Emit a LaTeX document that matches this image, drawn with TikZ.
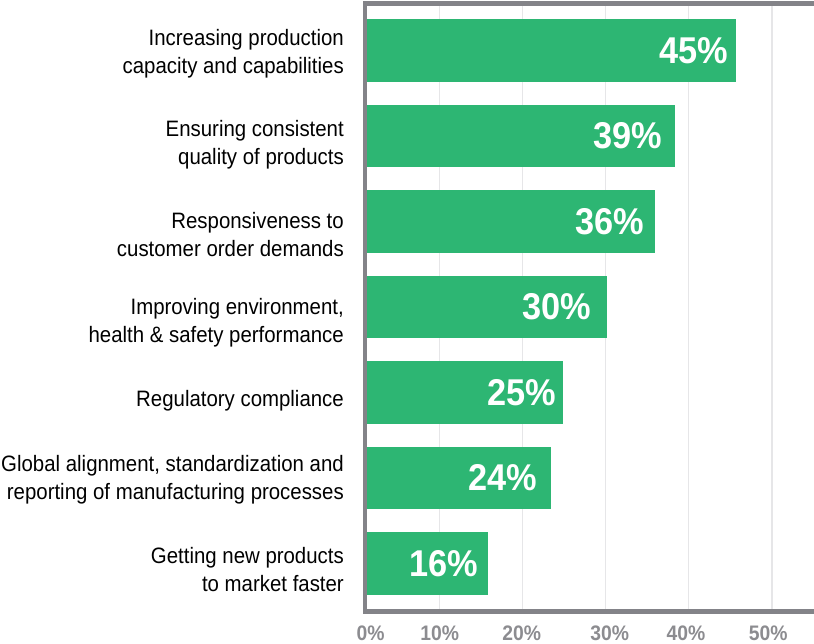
\documentclass[tikz,border=0pt]{standalone}
\usepackage{xcolor}
\usepackage{fontspec}
\setmainfont[FakeStretch=0.915]{Liberation Sans}
\newfontfamily\barfont[FakeStretch=0.92]{Liberation Sans}
\usepackage{tikz}
\usetikzlibrary{positioning}
\usetikzlibrary{calc}

\definecolor{bargreen}{HTML}{2DB673}
\definecolor{axisgray}{HTML}{838388}
\definecolor{tickgray}{HTML}{8C8C90}
\definecolor{gridgray}{HTML}{E6E6E8}

\tikzset{
  bar/.style={fill=bargreen, inner sep=0pt, minimum height=62.7pt, anchor=west},
  val/.style={inner sep=0pt, text=white, font=\barfont\bfseries\fontsize{37.3}{40}\selectfont},
  cat/.style={inner sep=0pt, align=right, font=\fontsize{22.3}{28}\selectfont},
  tick/.style={inner sep=0pt, anchor=base, text=tickgray, font=\barfont\bfseries\fontsize{21}{24}\selectfont},
  grid/.style={draw=gridgray, line width=1.5pt},
  axis/.style={draw=axisgray, line width=4.6pt}
}

\begin{document}
\begin{tikzpicture}[x=1pt, y=-1pt]
\useasboundingbox (0,0) rectangle (814,644);

% grid
\draw[grid] (439.3,6) -- (439.3,609);
\draw[grid] (522.3,6) -- (522.3,609);
\draw[grid] (605.7,6) -- (605.7,609);
\draw[grid] (688.7,6) -- (688.7,609);
\draw[grid] (772,6) -- (772,609);

% bars
\node[bar, minimum width=371pt] (b1) at (365,50.4) {};
\node[bar, minimum width=310pt] (b2) at (365,135.9) {};
\node[bar, minimum width=290pt] (b3) at (365,221.4) {};
\node[bar, minimum width=242pt] (b4) at (365,306.9) {};
\node[bar, minimum width=198pt] (b5) at (365,392.4) {};
\node[bar, minimum width=186pt] (b6) at (365,477.9) {};
\node[bar, minimum width=123pt] (b7) at (365,563.4) {};

\node[val, left=8pt of b1.east] (v1) {45\%};
\node[val, left=13pt of b2.east] (v2) {39\%};
\node[val, left=11pt of b3.east] (v3) {36\%};
\node[val, left=16pt of b4.east] (v4) {30\%};
\node[val, left=7pt of b5.east] (v5) {25\%};
\node[val, left=14pt of b6.east] (v6) {24\%};
\node[val, left=10pt of b7.east] (v7) {16\%};

\node[cat, left=21pt of b1.west, yshift=-3pt] (c1) {Increasing production\\capacity and capabilities};
\node[cat, left=21pt of b2.west, yshift=-8.5pt] (c2) {Ensuring consistent\\quality of products};
\node[cat, left=21pt of b3.west, yshift=-13pt] (c3) {Responsiveness to\\customer order demands};
\node[cat, left=21pt of b4.west, yshift=-16pt] (c4) {Improving environment,\\health \& safety performance};
\node[cat, left=21pt of b5.west, yshift=-8.5pt] (c5) {Regulatory compliance};
\node[cat, left=21pt of b6.west, yshift=-2pt] (c6) {Global alignment, standardization and\\reporting of manufacturing processes};
\node[cat, left=21pt of b7.west, yshift=-6pt] (c7) {Getting new products\\to market faster};

% axes
\coordinate (tl) at (365,3.3);
\coordinate (bl) at (365,611.5);
\draw[axis] (814,3.3) -- (tl) -- (bl) -- (814,611.5);

\node[tick] (t0) at (370.5,640.5) {0\%};
\node[tick] (t10) at (439.7,640.5) {10\%};
\node[tick] (t20) at (521.7,640.5) {20\%};
\node[tick] (t30) at (609.7,640.5) {30\%};
\node[tick] (t40) at (686,640.5) {40\%};
\node[tick] (t50) at (768.3,640.5) {50\%};
\end{tikzpicture}
\end{document}
